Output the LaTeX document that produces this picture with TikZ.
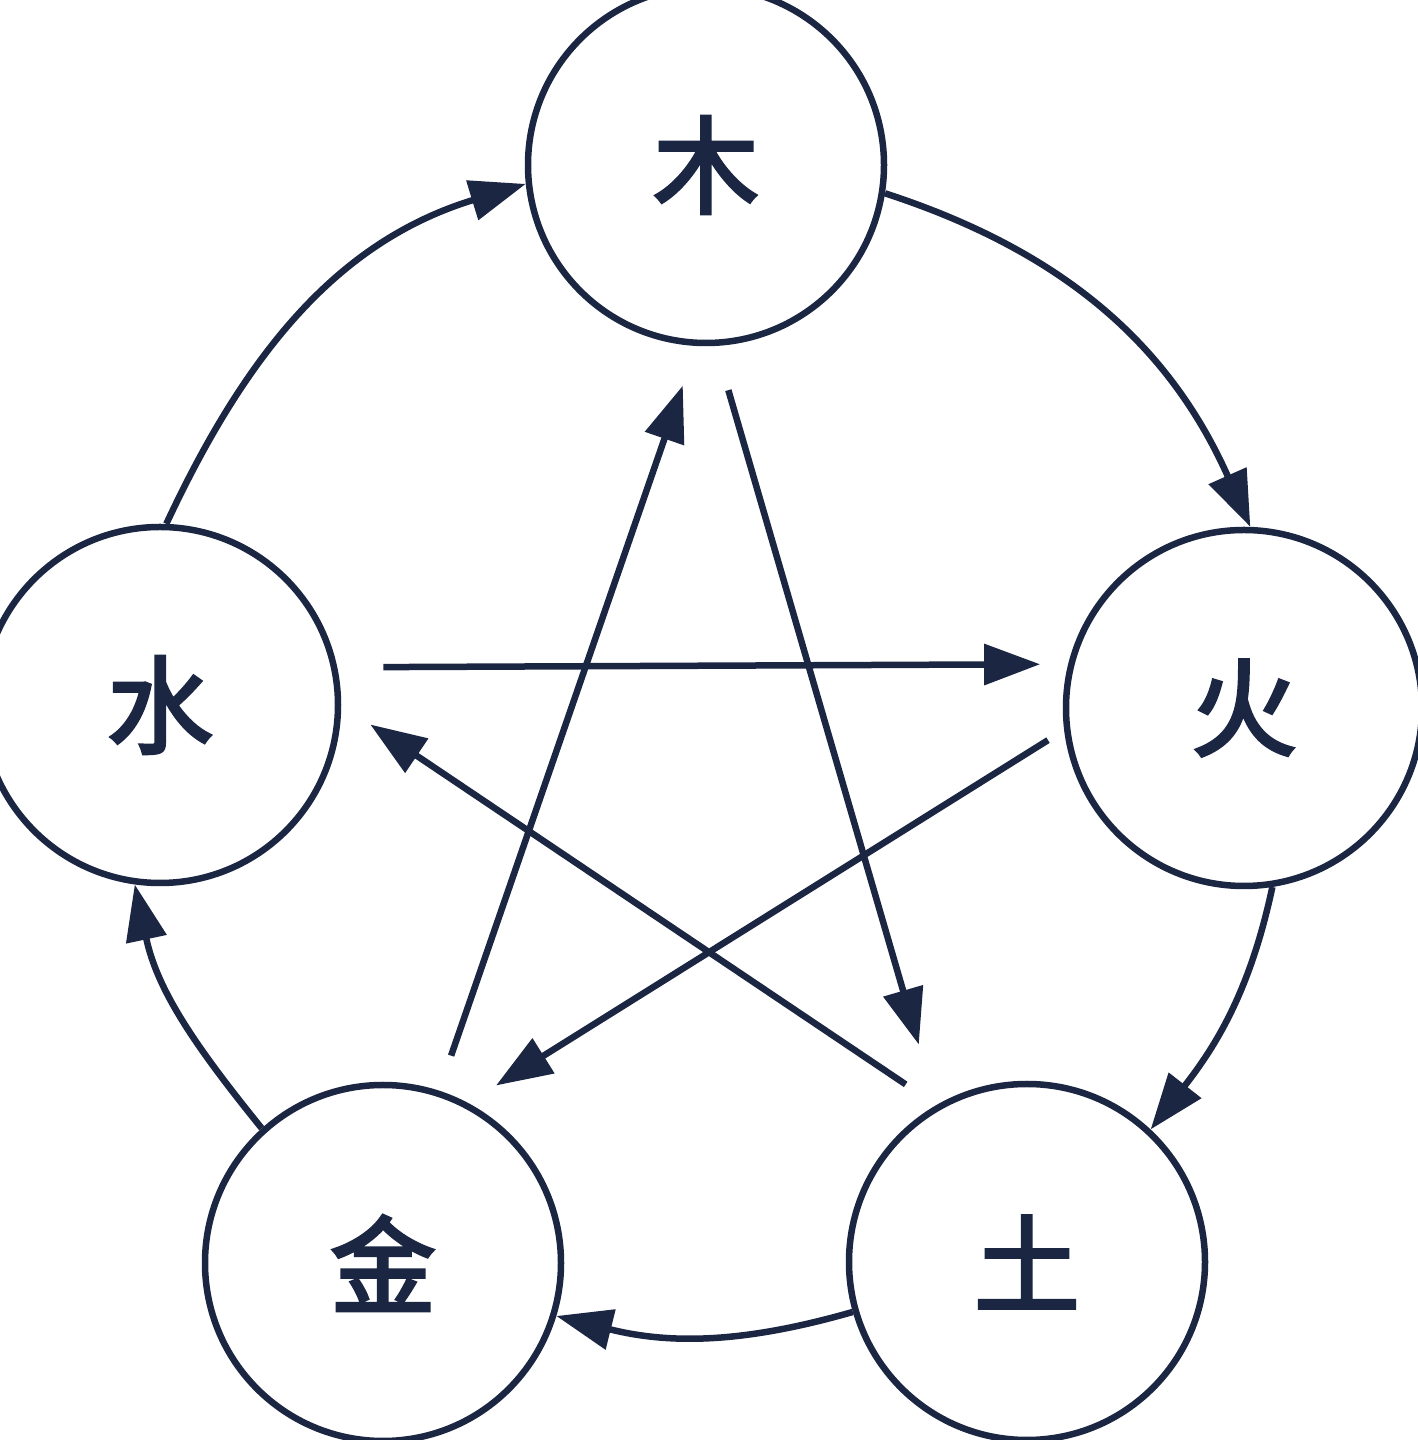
\documentclass[tikz,border=0pt]{standalone}
\usepackage{fontspec}
\newfontfamily\cjkfont{Noto Sans CJK SC}[FakeBold=3]
\usetikzlibrary{arrows.meta}
\definecolor{ink}{HTML}{1B2642}
\begin{document}
\begin{tikzpicture}[x=1pt,y=1pt,
  elem/.style={circle,draw=ink,line width=6.5pt,minimum size=356pt,inner sep=0pt,text=ink,
    font=\cjkfont\fontsize{106}{106}\selectfont},
  link/.style={draw=ink,line width=6.5pt,-{Triangle[length=56pt,width=40pt]}}]
\useasboundingbox[fill=white] (0,0) rectangle (1417,1440);
\node[elem] (mu)   at (706,1275) {木};
\node[elem] (huo)  at (1244,732) {火};
\node[elem] (tu)   at (1027,178) {土};
\node[elem] (jin)  at (383,177)  {金};
\node[elem] (shui) at (160,735)  {水};
% generating cycle
\draw[link] (mu.-9)   to[out=-18,in=114] (huo.88);
\draw[link] (huo.-81) to[out=-102,in=52] (tu.47);
\draw[link] (tu.196)  to[out=196,in=-14] (jin.-17);
\draw[link] (jin.132) to[out=129,in=-78] (shui.-98);
\draw[link] (shui.88) to[out=65,in=197]  (mu.186);
% controlling star
\draw[link,shorten <=46pt,shorten >=63pt] (mu.-87.5) -- (tu.120.3);
\draw[link,shorten <=37pt,shorten >=35pt] (tu.120.3) -- (shui.0);
\draw[link,shorten <=46pt,shorten >=28pt] (shui.12.8) -- (huo.166.3);
\draw[link,shorten <=19pt,shorten >=33pt] (huo.187.5) -- (jin.62.4);
\draw[link,shorten <=37pt,shorten >=42pt] (jin.72.4) -- (mu.-93.6);
\end{tikzpicture}
\end{document}
